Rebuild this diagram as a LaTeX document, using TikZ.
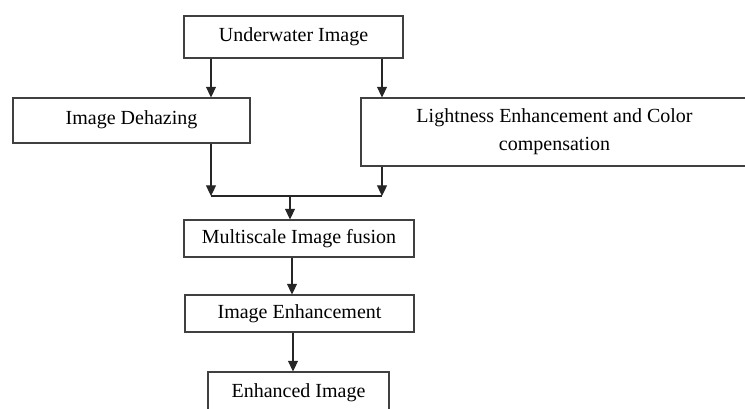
\documentclass[tikz,border=0pt]{standalone}
\usepackage{fontspec}
\setmainfont{Liberation Serif}
\usetikzlibrary{arrows.meta}

\begin{document}
\begin{tikzpicture}[->,>={Triangle[length=8pt,width=7.5pt]},x=0.75pt,y=-0.75pt,
                    thick,draw=black!85]
  \tikzstyle{every node}=[font=\fontsize{15}{21}\selectfont,inner sep=0pt]
  \tikzstyle{box}=[draw=black!75,thick,align=center]
\useasboundingbox (0,0) rectangle (745,408);
\clip (0,0) rectangle (745,408);

\node [box,minimum width=219*0.75pt,minimum height=42*0.75pt] (uw) at (293.5,37) {Underwater Image};
\node [box,minimum width=237*0.75pt,minimum height=45*0.75pt] (dehaze) at (131.5,120.5) {\raisebox{5pt}{Image Dehazing}};
\node [box,minimum width=387*0.75pt,minimum height=68*0.75pt] (light) at (554.5,132) {Lightness Enhancement and Color\\compensation};
\node [box,minimum width=230*0.75pt,minimum height=37*0.75pt] (fusion) at (299,238.5) {Multiscale Image fusion};
\node [box,minimum width=229*0.75pt,minimum height=37*0.75pt] (enh) at (299.5,313.5) {Image Enhancement};
\node [box,minimum width=181*0.75pt,minimum height=42*0.75pt] (out) at (298.5,393) {Enhanced Image};

\coordinate (jl) at (211,196);
\coordinate (jr) at (382,196);
\coordinate (jm) at (290,196);

\draw (uw.south -| jl) -- (dehaze.north -| jl);
\draw (uw.south -| jr) -- (light.north -| jr);
\draw (dehaze.south -| jl) -- (jl);
\draw (light.south -| jr) -- (jr);
\draw [-] (jl) -- (jr);
\draw (jm) -- (fusion.north -| jm);
\draw (fusion.south -| 292,0) -- (enh.north -| 292,0);
\draw (enh.south -| 293,0) -- (out.north -| 293,0);

\end{tikzpicture}
\end{document}
